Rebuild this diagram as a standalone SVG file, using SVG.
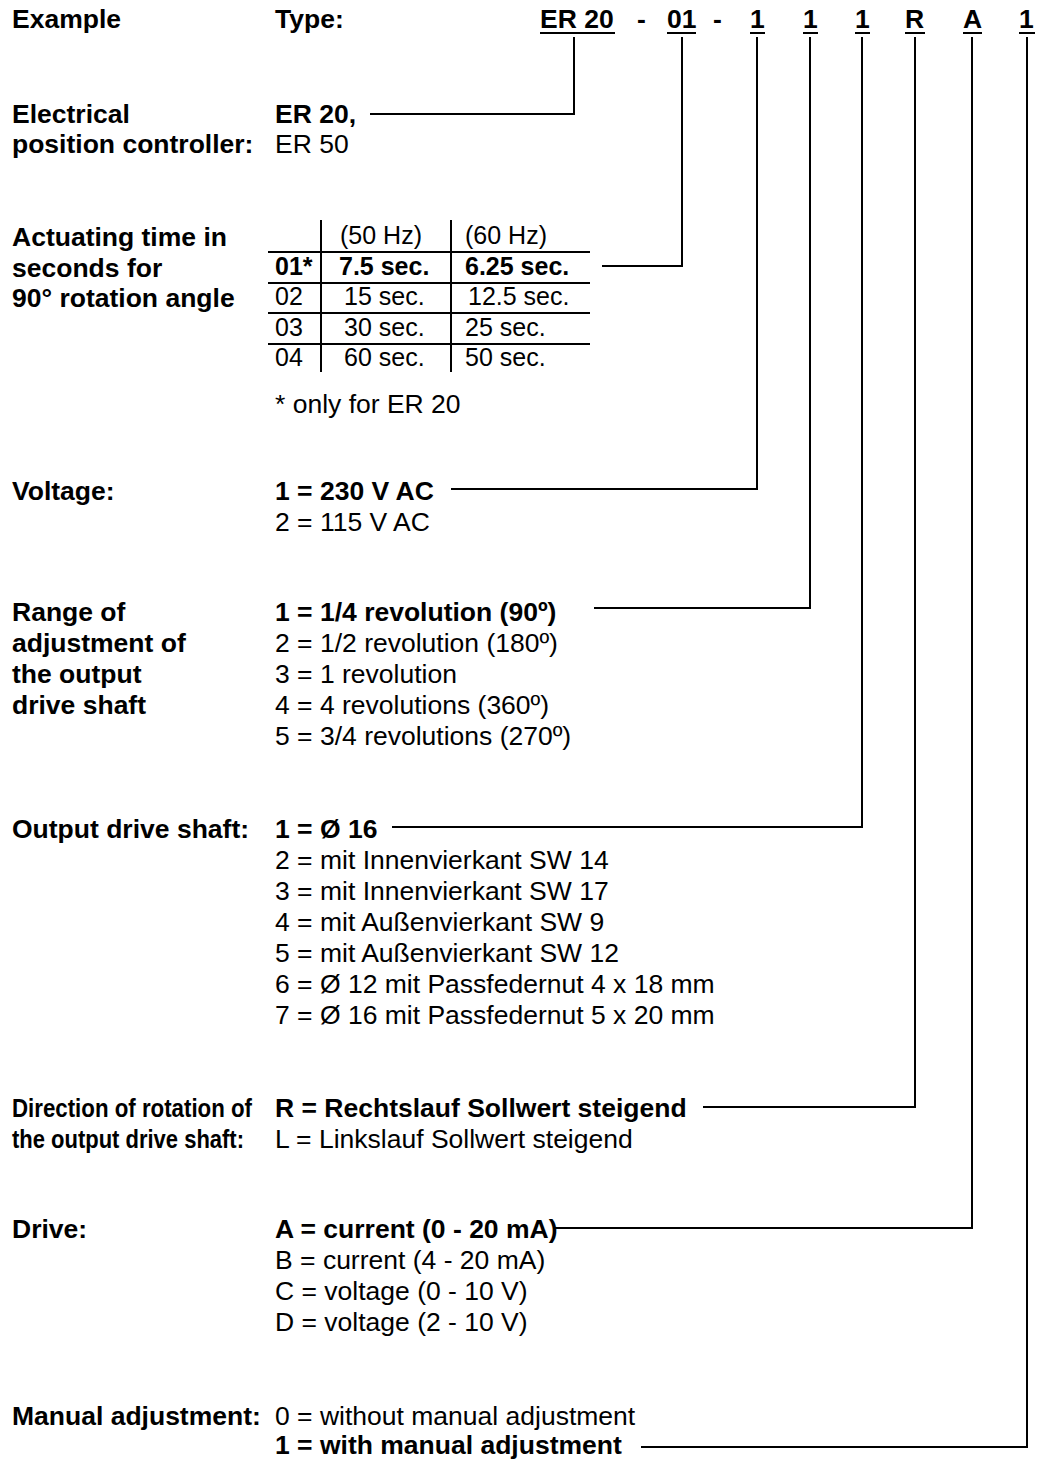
<svg xmlns="http://www.w3.org/2000/svg" width="1044" height="1461" viewBox="0 0 1044 1461">
<style>
text{font-family:"Liberation Sans",Arial,sans-serif;font-size:26.5px;fill:#000}
.b{font-weight:bold}
.t{font-size:25px}
.ln{stroke:#000;stroke-width:2;fill:none}
.tl{stroke:#000;stroke-width:2;fill:none}
</style>
<rect width="1044" height="1461" fill="#fff"/>
<g id="header">
<text class="b" x="12" y="28">Example</text>
<text class="b" x="275" y="28">Type:</text>
<text class="b" x="540" y="28">ER 20</text>
<text class="b" x="637" y="28">-</text>
<text class="b" x="667" y="28">01</text>
<text class="b" x="713" y="28">-</text>
<text class="b" x="750" y="28">1</text>
<text class="b" x="803" y="28">1</text>
<text class="b" x="855" y="28">1</text>
<text class="b" x="905" y="28">R</text>
<text class="b" x="963" y="28">A</text>
<text class="b" x="1019" y="28">1</text>
<path class="ln" d="M540 33H615M667 33H696M750 33H765M803 33H818M855 33H870M905 33H925M963 33H982M1019 33H1035"/>
</g>
<g id="controller">
<text class="b" x="12" y="123">Electrical</text>
<text class="b" x="12" y="153">position controller:</text>
<text class="b" x="275" y="123">ER 20,</text>
<text x="275" y="153">ER 50</text>
</g>
<g id="actuating-time">
<text class="b" x="12" y="246">Actuating time in</text>
<text class="b" x="12" y="277">seconds for</text>
<text class="b" x="12" y="307">90° rotation angle</text>
<text class="t" x="340" y="244">(50 Hz)</text>
<text class="t" x="465" y="244">(60 Hz)</text>
<text class="b t" x="275" y="275">01*</text>
<text class="b t" x="339" y="275">7.5 sec.</text>
<text class="b t" x="465" y="275">6.25 sec.</text>
<text class="t" x="275" y="305">02</text>
<text class="t" x="344" y="305">15 sec.</text>
<text class="t" x="468" y="305">12.5 sec.</text>
<text class="t" x="275" y="336">03</text>
<text class="t" x="344" y="336">30 sec.</text>
<text class="t" x="465" y="336">25 sec.</text>
<text class="t" x="275" y="366">04</text>
<text class="t" x="344" y="366">60 sec.</text>
<text class="t" x="465" y="366">50 sec.</text>
<path class="tl" d="M268 252H590M268 283H590M268 313H590M268 344H590M321 220V372M451 220V372"/>
<text x="275" y="413">* only for ER 20</text>
</g>
<g id="voltage">
<text class="b" x="12" y="500">Voltage:</text>
<text class="b" x="275" y="500">1 = 230 V AC</text>
<text x="275" y="531">2 = 115 V AC</text>
</g>
<g id="range">
<text class="b" x="12" y="621">Range of</text>
<text class="b" x="12" y="652">adjustment of</text>
<text class="b" x="12" y="683">the output</text>
<text class="b" x="12" y="714">drive shaft</text>
<text class="b" x="275" y="621">1 = 1/4 revolution (90º)</text>
<text x="275" y="652">2 = 1/2 revolution (180º)</text>
<text x="275" y="683">3 = 1 revolution</text>
<text x="275" y="714">4 = 4 revolutions (360º)</text>
<text x="275" y="745">5 = 3/4 revolutions (270º)</text>
</g>
<g id="shaft">
<text class="b" x="12" y="838">Output drive shaft:</text>
<text class="b" x="275" y="838">1 = Ø 16</text>
<text x="275" y="869">2 = mit Innenvierkant SW 14</text>
<text x="275" y="900">3 = mit Innenvierkant SW 17</text>
<text x="275" y="931">4 = mit Außenvierkant SW 9</text>
<text x="275" y="962">5 = mit Außenvierkant SW 12</text>
<text x="275" y="993">6 = Ø 12 mit Passfedernut 4 x 18 mm</text>
<text x="275" y="1024">7 = Ø 16 mit Passfedernut 5 x 20 mm</text>
</g>
<g id="direction">
<text class="b" x="12" y="1117" textLength="240" lengthAdjust="spacingAndGlyphs">Direction of rotation of</text>
<text class="b" x="12" y="1148" textLength="232" lengthAdjust="spacingAndGlyphs">the output drive shaft:</text>
<text class="b" x="275" y="1117">R = Rechtslauf Sollwert steigend</text>
<text x="275" y="1148">L = Linkslauf Sollwert steigend</text>
</g>
<g id="drive">
<text class="b" x="12" y="1238">Drive:</text>
<text class="b" x="275" y="1238">A = current (0 - 20 mA)</text>
<text x="275" y="1269">B = current (4 - 20 mA)</text>
<text x="275" y="1300">C = voltage (0 - 10 V)</text>
<text x="275" y="1331">D = voltage (2 - 10 V)</text>
</g>
<g id="manual">
<text class="b" x="12" y="1425">Manual adjustment:</text>
<text x="275" y="1425">0 = without manual adjustment</text>
<text class="b" x="275" y="1454">1 = with manual adjustment</text>
</g>
<g id="connectors">
<path class="ln" d="M370 114H574V37"/>
<path class="ln" d="M602 266H682V37"/>
<path class="ln" d="M451 489H757V37"/>
<path class="ln" d="M594 608H810V37"/>
<path class="ln" d="M392 827H862V37"/>
<path class="ln" d="M703 1107H915V37"/>
<path class="ln" d="M555 1228H972V37"/>
<path class="ln" d="M641 1447H1027V37"/>
</g>
</svg>
